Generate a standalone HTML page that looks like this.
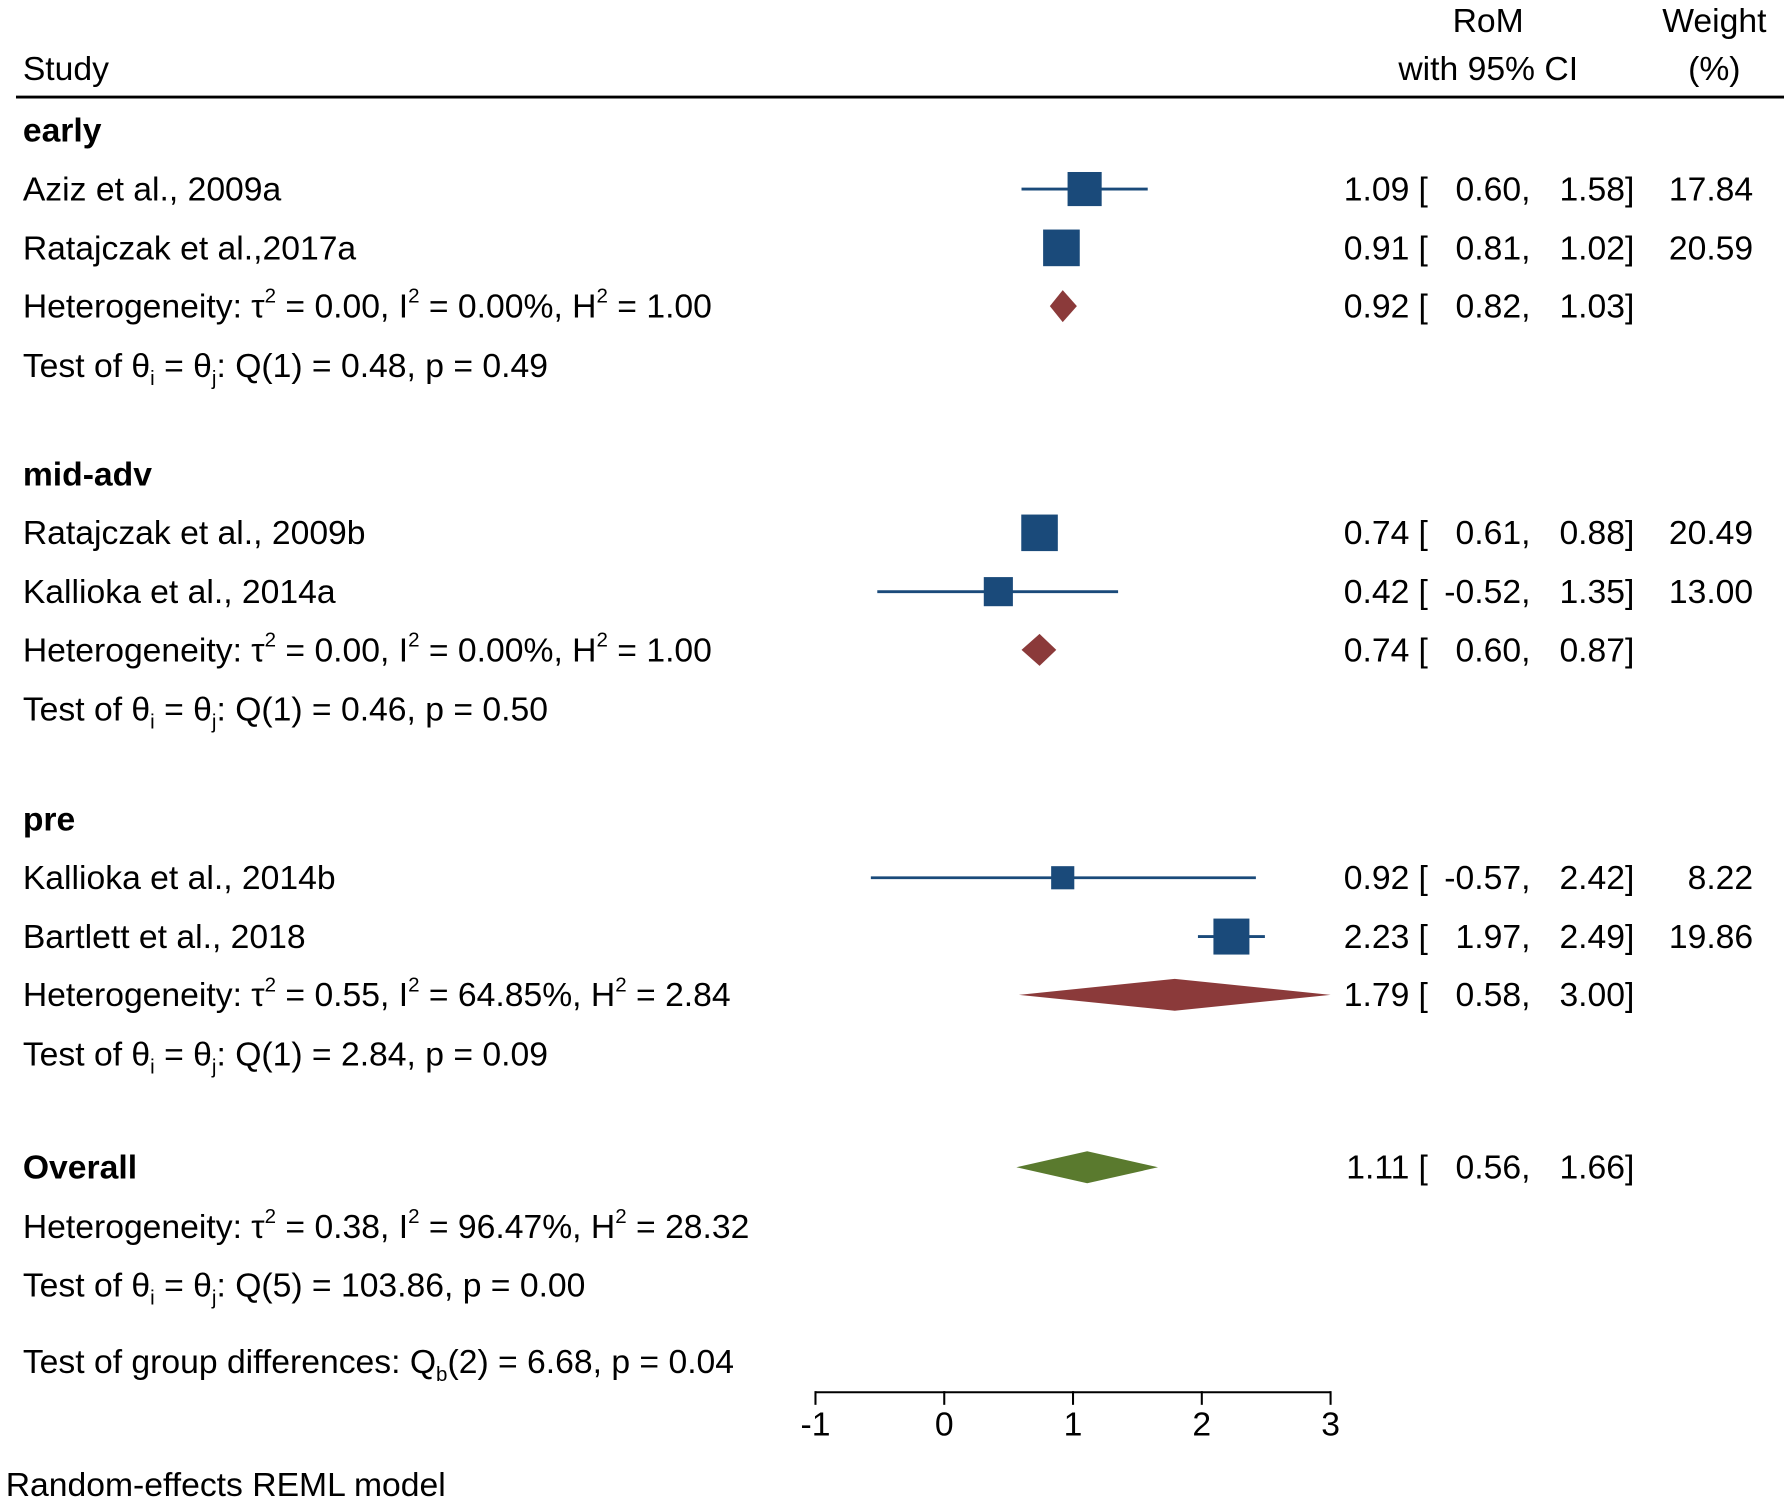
<!DOCTYPE html>
<html><head><meta charset="utf-8"><style>
html,body{margin:0;padding:0;background:#fff;}
svg{display:block;font-family:"Liberation Sans",Arial,sans-serif;}
</style></head><body>
<svg id="chart" width="1784" height="1500" viewBox="0 0 1562 1313.3" xmlns="http://www.w3.org/2000/svg">
<g id="static" font-size="29.5" fill="#000">
  <text x="1303" y="28" text-anchor="middle">RoM</text>
  <text x="1303" y="70" text-anchor="middle">with 95% CI</text>
  <text x="1501" y="28" text-anchor="middle">Weight</text>
  <text x="1501" y="70" text-anchor="middle">(%)</text>
  <text x="20" y="70">Study</text>
  <line x1="14" x2="1562" y1="85" y2="85" stroke="#000" stroke-width="2.5"/>
</g>
<g id="marks"></g>
</svg>
<script>
const studyNames = ["Aziz et al., 2009a","Ratajczak et al.,2017a","Ratajczak et al., 2009b","Kallioka et al., 2014a","Kallioka et al., 2014b","Bartlett et al., 2018"];
const studyEst = [1.09,0.91,0.74,0.42,0.92,2.23];
const studyLo = [0.60,0.81,0.61,-0.52,-0.57,1.97];
const studyHi = [1.58,1.02,0.88,1.35,2.42,2.49];
const studyWeight = ["17.84","20.59","20.49","13.00","8.22","19.86"];
const groupNames = ["early","mid-adv","pre"];
const groupEst = [0.92,0.74,1.79];
const groupLo = [0.82,0.60,0.58];
const groupHi = [1.03,0.87,3.00];
const groupTau = ["0.00","0.00","0.55"];
const groupI2 = ["0.00%","0.00%","64.85%"];
const groupH2 = ["1.00","1.00","2.84"];
const groupQ = ["Q(1) = 0.48, p = 0.49","Q(1) = 0.46, p = 0.50","Q(1) = 2.84, p = 0.09"];
const overallEst = 1.11, overallLo = 0.56, overallHi = 1.66;
const overallHet = ["0.38","96.47%","28.32"];
const overallQ = "Q(5) = 103.86, p = 0.00";
const groupDiff = "6.68, p = 0.04";
const xTicks = [-1,0,1,2,3];

const NS="http://www.w3.org/2000/svg";
const FS=29.5, SS=18;
const g=document.getElementById('marks');
const xs=v=>714+(v+1)*112.75;
function el(tag,attrs,parent){const e=document.createElementNS(NS,tag);for(const k in attrs)e.setAttribute(k,attrs[k]);(parent||g).appendChild(e);return e;}
function txt(x,y,s,opts){const e=el('text',Object.assign({x:x,y:y,'font-size':FS},opts||{}));e.textContent=s;return e;}
function fmt(v){return v.toFixed(2);}
function ciText(y,est,lo,hi){
  const a=txt(1234,y,fmt(est),{'text-anchor':'end'});
  const b=txt(1242,y,'[');
  const c=txt(1340,y,fmt(lo)+',',{'text-anchor':'end'});
  const d=txt(1431,y,fmt(hi)+']',{'text-anchor':'end'});
}
function hetLine(y,tau,i2,h2){
  const t=el('text',{x:20,y:y,'font-size':FS});
  
  
  t.innerHTML='Heterogeneity: τ<tspan font-size="'+SS+'" dy="-13">2</tspan><tspan dy="13"> = '+tau+', I</tspan><tspan font-size="'+SS+'" dy="-13">2</tspan><tspan dy="13"> = '+i2+', H</tspan><tspan font-size="'+SS+'" dy="-13">2</tspan><tspan dy="13"> = '+h2+'</tspan>';
}
function testLine(y,q){
  const t=el('text',{x:20,y:y,'font-size':FS});
  
  
  t.innerHTML='Test of θ<tspan font-size="'+SS+'" dy="7">i</tspan><tspan dy="-7"> = θ</tspan><tspan font-size="'+SS+'" dy="7">j</tspan><tspan dy="-7">: '+q+'</tspan>';
}
function diamond(cy,est,lo,hi,color,name){
  const p=el('polygon',{points:[xs(lo)+','+cy,xs(est)+','+(cy-14),xs(hi)+','+cy,xs(est)+','+(cy+14)].join(' '),fill:color});
  
  
}
const groupTop=[114,415,717];
let si=0;
for(let gi=0;gi<3;gi++){
  const y0=groupTop[gi];
  const h=txt(20,y0+10,groupNames[gi],{'font-weight':'bold'});
  
  
  for(let k=0;k<2;k++,si++){
    const cy=y0+51.5*(k+1);
    const n=txt(20,cy+10,studyNames[si]);
    
    
    const l=el('line',{x1:xs(studyLo[si]),x2:xs(studyHi[si]),y1:cy,y2:cy,stroke:'#1a4a7a','stroke-width':2.5});
    
    
    const s=7.07*Math.sqrt(parseFloat(studyWeight[si]));
    const r=el('rect',{x:xs(studyEst[si])-s/2,y:cy-s/2,width:s,height:s,fill:'#1a4a7a'});
    
    
    ciText(cy+10,studyEst[si],studyLo[si],studyHi[si]);
    const w=txt(1535,cy+10,studyWeight[si],{'text-anchor':'end'});
    
    
  }
  const hy=y0+154;
  hetLine(hy+10,groupTau[gi],groupI2[gi],groupH2[gi]);
  diamond(hy,groupEst[gi],groupLo[gi],groupHi[gi],'#8b3a3a','subgroup-diamond');
  ciText(hy+10,groupEst[gi],groupLo[gi],groupHi[gi]);
  testLine(y0+216,groupQ[gi]);
}
const ov=txt(20,1032,'Overall',{'font-weight':'bold'});


diamond(1022,overallEst,overallLo,overallHi,'#5a7a2e','overall-diamond');
ciText(1032,overallEst,overallLo,overallHi);
hetLine(1084,overallHet[0],overallHet[1],overallHet[2]);
testLine(1135,overallQ);
const gd=el('text',{x:20,y:1202,'font-size':FS});


gd.innerHTML='Test of group differences: Q<tspan font-size="'+SS+'" dy="7">b</tspan><tspan dy="-7">(2) = '+groupDiff+'</tspan>';
const ax=el('line',{x1:xs(xTicks[0]),x2:xs(xTicks[xTicks.length-1]),y1:1219,y2:1219,stroke:'#000','stroke-width':1.8});


xTicks.forEach(t=>{
  const tk=el('line',{x1:xs(t),x2:xs(t),y1:1218,y2:1230,stroke:'#000','stroke-width':1.8});
  
  
  const tl=txt(xs(t),1257,String(t),{'text-anchor':'middle'});
  
  
});
const ft=txt(5,1310,'Random-effects REML model');


</script>
</body></html>
